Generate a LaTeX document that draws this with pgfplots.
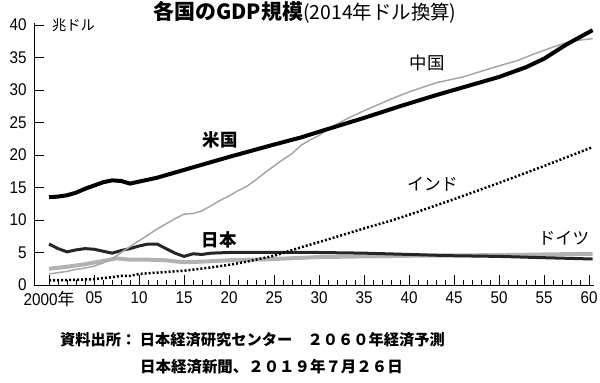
\documentclass[border=0pt]{standalone}
\usepackage{fontspec}
\setmainfont{Liberation Sans}
\newfontfamily\jp{Noto Sans CJK JP}
\newfontfamily\tickfont[FakeStretch=0.9]{Liberation Sans}
\usepackage{pgfplots}
\pgfplotsset{compat=1.18}
\begin{document}
\begin{tikzpicture}[x=1bp,y=1bp]
\begin{axis}[
  at={(0,0)}, anchor=south west, scale only axis,
  width=560.4bp, height=262bp,
  xmin=-1.67, xmax=60.6, ymin=0, ymax=40.3,
  axis x line*=bottom, axis y line*=left,
  axis line style={line width=0.9bp},
  xtick={0,5,...,60},
  xticklabels={2000{\jp 年},05,10,15,20,25,30,35,40,45,50,55,60},
  minor x tick num=4,
  ytick={0,5,...,40},
  tick align=inside,
  major tick length=10bp, minor tick length=5bp,
  tick style={black, line width=0.8bp},
  /pgf/number format/assume math mode=true,
  ticklabel style={font=\tickfont\fontsize{17}{17}\selectfont},
  xticklabel style={yshift=-3bp},
  yticklabel style={xshift=-4bp},
  clip=false,
]
% Germany
\addplot[gray!60, line width=4bp] coordinates {
(0,2.5) (2,2.8) (4,3.2) (6,3.7) (7.5,4.1) (9,3.9) (11,3.9) (13,3.8) (15,3.5) (17,3.6) (20,3.8) (25,4.0) (30,4.3) (40,4.5) (50,4.6) (60.4,4.8)};
% Japan
\addplot[black!85, line width=3bp] coordinates {
(0,6.3) (1,5.6) (2,5.1) (3,5.4) (4,5.6) (5,5.5) (6,5.2) (7,4.9) (8,5.3) (9,5.6) (10,6.0) (11,6.3) (12,6.3) (13,5.6) (14,4.9) (15,4.4) (16,4.8) (17,4.7) (18,4.9) (20,5.0) (25,5.0) (30,5.0) (35,4.9) (40,4.7) (45,4.5) (50,4.4) (55,4.2) (60.4,4.0)};
% India
\addplot[black, line width=2.5bp, dash pattern=on 2bp off 2bp] coordinates {
(0,0.7) (3,0.8) (5,0.9) (7,1.2) (8,1.4) (9,1.4) (10,1.7) (12,1.9) (15,2.2) (18,2.7) (20,3.1) (22,3.6) (25,4.5) (28,5.8) (30,6.6) (35,8.7) (38,9.9) (40,10.8) (45,13.2) (50,15.7) (55,18.3) (60.4,21.2)};
% China
\addplot[gray!70, line width=1.5bp] coordinates {
(0,1.7) (1,1.9) (2,2.1) (3,2.4) (4,2.6) (5,2.9) (6,3.4) (7,4.0) (7.5,4.5) (8,5.0) (9,5.9) (10,6.8) (11,7.7) (12,8.6) (13,9.4) (14,10.2) (15,10.9) (16,11.0) (17,11.4) (18,12.2) (19,13.0) (20,13.7) (21,14.5) (22,15.2) (23,16.2) (24,17.3) (25,18.3) (26,19.3) (27,20.2) (28,21.5) (29,22.3) (30,23.0) (31,24.0) (33,25.5) (35,26.8) (38,28.6) (40,29.7) (43,31.1) (46,32.0) (49,33.3) (52,34.5) (54,35.6) (56,36.6) (58,37.5) (60.4,37.9)};
% US
\addplot[black, line width=4bp] coordinates {
(0,13.5) (1,13.6) (2,13.8) (3,14.2) (4,14.8) (5,15.3) (6,15.8) (7,16.1) (8,16.0) (9,15.6) (10,15.9) (11,16.2) (12,16.5) (13,16.9) (14,17.3) (15,17.7) (20,19.7) (25,21.6) (28,22.7) (31,24.0) (35,25.7) (39,27.5) (43,29.2) (47,30.8) (50,32.0) (53,33.5) (55,34.8) (57.5,37.0) (60.4,39.2)};

\node[font=\jp\fontsize{17.5}{17.5}\selectfont\bfseries] at (axis cs:19,22.4) {米国};
\node[font=\jp\fontsize{17.5}{17.5}\selectfont] at (axis cs:42,34.2) {中国};
\node[font=\jp\fontsize{17}{17}\selectfont] at (axis cs:42.6,15.5) {インド};
\node[font=\jp\fontsize{17.5}{17.5}\selectfont\bfseries] at (axis cs:18.9,7.0) {日本};
\node[font=\jp\fontsize{17}{17}\selectfont] at (axis cs:57.2,7.15) {ドイツ};
\node[font=\jp\fontsize{14.3}{14.3}\selectfont, anchor=west, inner sep=0pt] at (axis cs:0.33,39.9) {兆ドル};
\end{axis}
\node[inner sep=0pt] at (271,273) {{\jp\bfseries\fontsize{21}{21}\selectfont 各国のGDP規模}{\jp\fontsize{19.5}{19.5}\selectfont (2014年ドル換算)}};
\node[inner sep=0pt, font=\jp\bfseries\fontsize{15.3}{15.3}\selectfont] at (218.5,-55) {資料出所： 日本経済研究センター　２０６０年経済予測};
\node[inner sep=0pt, font=\jp\bfseries\fontsize{15.5}{15.5}\selectfont] at (237.5,-82) {日本経済新聞、２０１９年７月２６日};
\pgfresetboundingbox
\path[use as bounding box] (-34,-97) rectangle (566,285);
\end{tikzpicture}
\end{document}
